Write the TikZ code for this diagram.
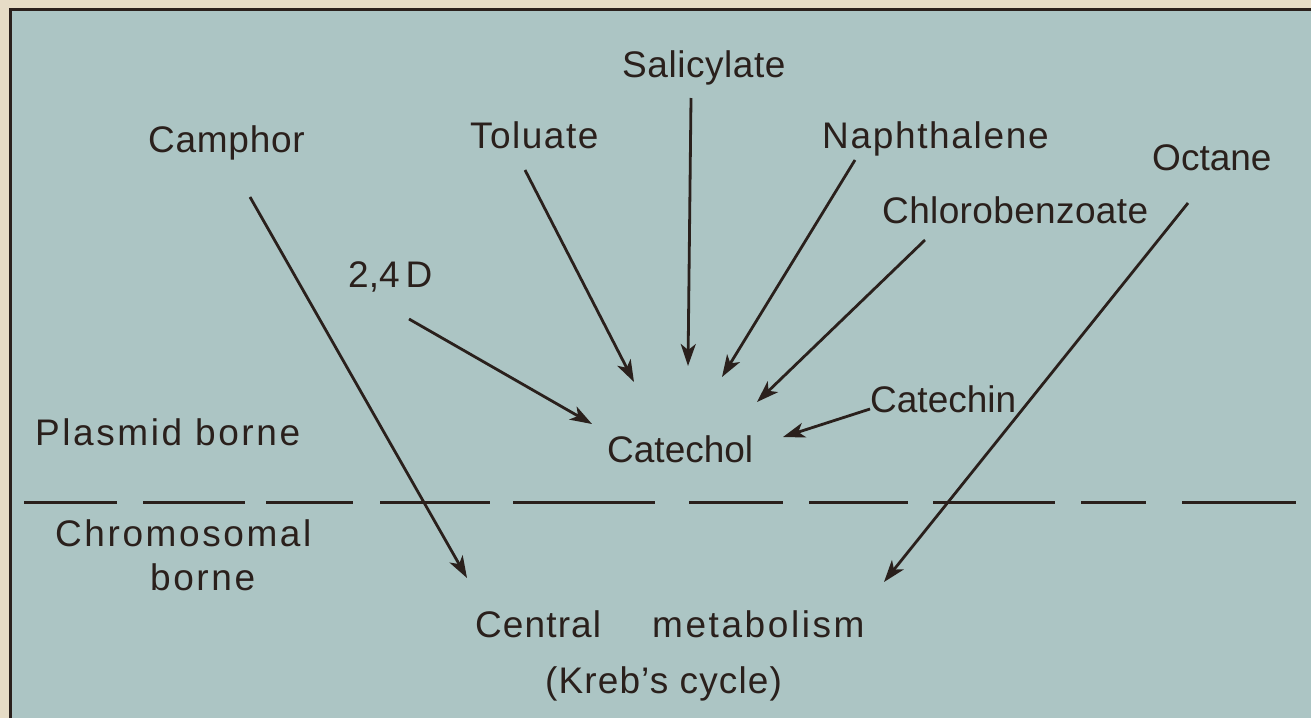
\documentclass[tikz,border=0pt]{standalone}
\usepackage{fontspec}
\setmainfont{Liberation Sans}
\usetikzlibrary{arrows.meta}
\definecolor{paper}{RGB}{230,220,198}
\definecolor{panel}{RGB}{172,197,196}
\definecolor{ink}{RGB}{42,32,28}
\newcommand\lsp[1]{\addfontfeature{LetterSpace=#1}}
\tikzset{
  lbl/.style={anchor=base west, inner sep=0pt, text=ink, font=\fontsize{37}{40}\selectfont},
  arr/.style={draw=ink, line width=2.8pt, -{Stealth[length=22pt, width=15pt, inset=6pt]}},
  sep/.style={draw=ink, line width=3pt},
  frame/.style={draw=ink, line width=3pt}
}
\begin{document}
\begin{tikzpicture}[x=1pt,y=-1pt]
\useasboundingbox (0,0) rectangle (1311,718);
\fill[paper] (0,0) rectangle (1311,718);
\fill[panel] (10,9) rectangle (1311,718);
\draw[frame] (10,718) -- (10,9) -- (1311,9);

% labels
\node[lbl] (salicylate) at (622,77) {\lsp{1.5}Salicylate};
\node[lbl] (camphor) at (148,152) {\lsp{2}Camphor};
\node[lbl] (toluate) at (470,148) {\lsp{4}Toluate};
\node[lbl] (naphthalene) at (822,148) {\lsp{4.5}Naphthalene};
\node[lbl] (octane) at (1152,170) {Octane};
\node[lbl] (chloro) at (882,223) {\lsp{1}Chlorobenzoate};
\node[lbl] (twofourd) at (348,287) {2,4\hspace{6pt}D};
\node[lbl] (catechin) at (870,412) {Catechin};
\node[lbl] (catechol) at (607,462) {Catechol};
\node[lbl] (plasmid) at (35,445) {\lsp{7}Plasmid borne};
\node[lbl] (chromo) at (55,546) {\lsp{7}Chromosomal};
\node[lbl] (chromob) at (150,590) {\lsp{7}borne};
\node[lbl] (central) at (475,637) {{\lsp{3}Central}\hspace{51pt}{\lsp{7}metabolism}};
\node[lbl] (kreb) at (545,693) {\lsp{3}(Kreb’s cycle)};

% arrow end points
\coordinate (camphor-s) at (250,197);
\coordinate (camphor-e) at (467,578);
\coordinate (toluate-s) at (525,170);
\coordinate (toluate-e) at (634,382);
\coordinate (salicylate-s) at (691,98);
\coordinate (salicylate-e) at (688,366);
\coordinate (naph-s) at (855,160);
\coordinate (naph-e) at (722,377);
\coordinate (chloro-s) at (925,240);
\coordinate (chloro-e) at (757,402);
\coordinate (octane-s) at (1188,203);
\coordinate (octane-e) at (884,582);
\coordinate (twofourd-s) at (409,319);
\coordinate (twofourd-e) at (592,424);
\coordinate (catechin-s) at (870,409);
\coordinate (catechin-e) at (783,437);

\draw[arr] (camphor-s) -- (camphor-e);
\draw[arr] (toluate-s) -- (toluate-e);
\draw[arr] (salicylate-s) -- (salicylate-e);
\draw[arr] (naph-s) -- (naph-e);
\draw[arr] (chloro-s) -- (chloro-e);
\draw[arr] (octane-s) -- (octane-e);
\draw[arr] (twofourd-s) -- (twofourd-e);
\draw[arr] (catechin-s) -- (catechin-e);

% dashed separator
\foreach \a/\b in {24/117,143/245,266/353,380/490,513/655,689/783,809/908,933/1055,1081/1146,1182/1296}
  \draw[sep] (\a,502) -- (\b,502);
\end{tikzpicture}
\end{document}
